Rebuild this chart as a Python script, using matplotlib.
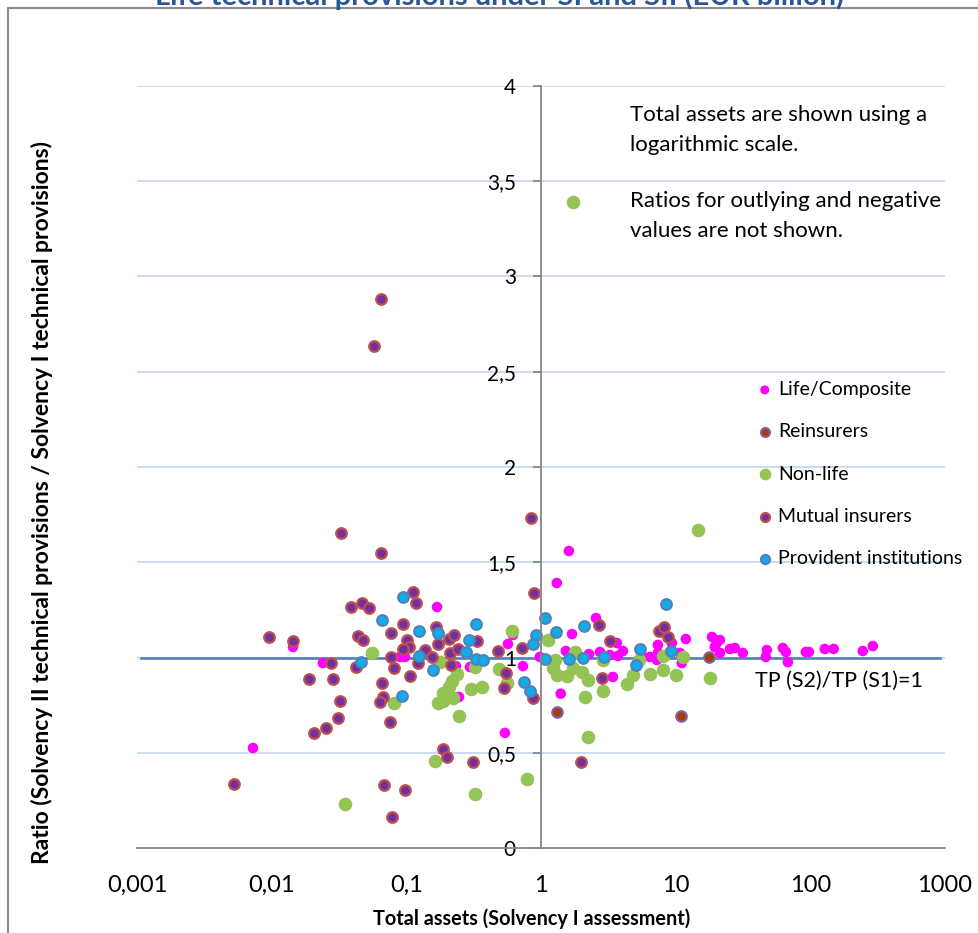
import matplotlib
matplotlib.use('Agg')
import matplotlib.pyplot as plt
from matplotlib.patches import Rectangle
from matplotlib.ticker import NullLocator

plt.rcParams['font.family'] = ['Lato', 'DejaVu Sans']

# ---------------- data ----------------
life_x = [0.0144, 0.00726, 0.0240, 0.169, 0.0897, 0.0976, 0.2335, 0.246, 0.297, 0.568, 0.619, 0.734,
          0.540, 1.31, 1.61, 1.40, 2.56, 1.70, 1.53, 2.27, 2.74, 3.25, 3.66, 4.06, 3.72, 3.42, 6.43,
          7.38, 7.38, 7.25, 9.37, 11.9, 10.75, 11.1, 18.6, 20.2, 21.3, 19.5, 21.3, 25.3, 27.5, 31.5,
          47.5, 46.7, 62.5, 65.8, 68.1, 92.6, 97.5, 128, 149, 245, 291, 0.98, 5.7]
life_y = [1.055, 0.525, 0.971, 1.265, 1.003, 1.003, 0.955, 0.793, 0.950, 1.071, 1.118, 0.955,
          0.604, 1.391, 1.559, 0.81, 1.207, 1.123, 1.034, 1.018, 1.029, 1.013, 1.076, 1.034, 1.008,
          0.898, 1.003, 1.066, 1.024, 0.987, 1.076, 1.097, 1.024, 0.971, 1.108, 1.076, 1.092, 1.055,
          1.024, 1.045, 1.050, 1.024, 1.039, 1.003, 1.050, 1.029, 0.976, 1.029, 1.029, 1.045, 1.045,
          1.034, 1.060, 1.003, 1.003]

reins_x = [1.31, 10.9, 17.6]
reins_y = [0.714, 0.693, 1.003]

nonlife_x = [1.73, 14.6, 0.035, 0.323, 0.786, 2.23, 0.163, 17.95, 0.246, 0.081, 2.12, 2.88, 0.0555,
             0.608, 1.125, 0.178, 0.2375, 0.218, 0.207, 0.187, 0.172, 0.187, 0.222, 0.302, 0.364,
             0.323, 0.487, 0.558, 1.27, 1.23, 1.31, 1.56, 1.79, 1.73, 2.01, 2.23, 4.34, 4.81, 6.43,
             8.04, 10.0, 8.04, 11.3, 5.33, 2.88]
nonlife_y = [3.391, 1.669, 0.231, 0.283, 0.362, 0.583, 0.457, 0.892, 0.693, 0.761, 0.793, 0.824,
             1.024, 1.139, 1.092, 0.976, 0.913, 0.877, 0.845, 0.814, 0.761, 0.772, 0.787, 0.835,
             0.845, 0.950, 0.940, 0.866, 0.987, 0.945, 0.908, 0.903, 1.029, 0.945, 0.924, 0.882,
             0.861, 0.908, 0.913, 0.934, 0.908, 1.008, 1.003, 0.987, 0.987]

mutual_x = [0.0648, 0.0575, 0.0327, 0.0648, 0.841, 0.00955, 0.0144, 0.0276, 0.0189, 0.0285, 0.0321,
            0.0311, 0.0253, 0.0206, 0.00527, 0.0388, 0.0468, 0.0528, 0.0437, 0.0476, 0.0422, 0.0659,
            0.0671, 0.0637, 0.0755, 0.0682, 0.0976, 0.0782, 0.112, 0.118, 0.0944, 0.0769, 0.101,
            0.1045, 0.0944, 0.166, 0.172, 0.207, 0.226, 0.334, 0.7215, 0.886, 0.0769, 0.137, 0.155,
            0.211, 0.242, 0.479, 0.214, 0.081, 0.122, 0.106, 0.549, 0.530, 0.871, 0.187, 0.200,
            0.312, 1.98, 2.69, 3.25, 7.50, 8.17, 8.75, 2.83]
mutual_y = [2.882, 2.635, 1.654, 1.549, 1.732, 1.108, 1.087, 0.971, 0.887, 0.887, 0.772, 0.682,
            0.630, 0.604, 0.336, 1.265, 1.286, 1.260, 1.113, 1.092, 0.950, 0.866, 0.793, 0.766,
            0.661, 0.331, 0.304, 0.163, 1.344, 1.286, 1.176, 1.129, 1.092, 1.055, 1.045, 1.160,
            1.071, 1.097, 1.118, 1.087, 1.050, 1.339, 1.003, 1.039, 1.003, 1.024, 1.045, 1.034,
            0.961, 0.945, 0.971, 0.903, 0.919, 0.840, 0.787, 0.520, 0.478, 0.451, 0.451, 1.171,
            1.087, 1.139, 1.160, 1.108, 0.892]

prov_x = [0.0944, 0.0928, 0.0659, 0.124, 0.172, 0.329, 0.046, 0.124, 0.158, 0.277, 0.292, 0.329,
          0.371, 0.747, 0.827, 1.07, 0.917, 0.871, 1.29, 1.07, 1.61, 2.08, 2.05, 2.93, 5.06, 5.42,
          9.21, 8.46]
prov_y = [1.318, 0.798, 1.197, 1.139, 1.129, 1.176, 0.976, 1.008, 0.934, 1.029, 1.092, 0.992,
          0.987, 0.871, 0.824, 1.207, 1.118, 1.071, 1.134, 0.992, 0.992, 1.165, 0.997, 1.003,
          0.961, 1.045, 1.034, 1.281]

ref_x = [0.00107, 914]
ref_y = [1, 1]

x_ticks = [0.001, 0.01, 0.1, 1, 10, 100, 1000]
x_labels = ['0,001', '0,01', '0,1', '1', '10', '100', '1000']
y_ticks = [0, 0.5, 1, 1.5, 2, 2.5, 3, 3.5, 4]
y_labels = ['0', '0,5', '1', '1,5', '2', '2,5', '3', '3,5', '4']

series_names = ['Life/Composite', 'Reinsurers', 'Non-life', 'Mutual insurers', 'Provident institutions']

title = 'Life technical provisions under SI and SII (EUR billion)'
note1 = 'Total assets are shown using a\nlogarithmic scale.'
note2 = 'Ratios for outlying and negative\nvalues are not shown.'
ref_label = 'TP (S2)/TP (S1)=1'

# ---------------- figure ----------------
W, H = 979, 933
fig = plt.figure(figsize=(W / 100, H / 100), dpi=100)
ax = fig.add_axes([137 / W, 1 - 848 / H, (945 - 137) / W, (848 - 86) / H])
ax.set_xscale('log')
ax.set_xlim(0.001, 1000)
ax.set_ylim(0, 4)

for yv in y_ticks[1:]:
    ax.axhline(yv, color='#c6d9f1', lw=1.3, zorder=0)

hs = []
hs.append(ax.scatter(life_x, life_y, s=58, c='#ff00ff', edgecolors='none', zorder=2))
hs.append(ax.scatter(reins_x, reins_y, s=58, c='#a63c06', edgecolors='#8064a2', linewidths=1.5, zorder=2))
hs.append(ax.scatter(nonlife_x, nonlife_y, s=80, c='#92c653', edgecolors='#9bbb59', linewidths=0.8, zorder=2))
hs.append(ax.scatter(mutual_x, mutual_y, s=58, c='#7030a0', edgecolors='#c0504d', linewidths=1.6, zorder=2))
hs.append(ax.scatter(prov_x, prov_y, s=58, c='#10aee8', edgecolors='#4f81bd', linewidths=1.6, zorder=2))

ax.plot(ref_x, ref_y, color='#4f81bd', lw=1.9, zorder=1.5)

for k in ['top', 'right']:
    ax.spines[k].set_visible(False)
ax.spines['left'].set_position(('data', 1))
ax.spines['left'].set_color('#868686')
ax.spines['left'].set_linewidth(1.3)
ax.spines['bottom'].set_color('#868686')
ax.spines['bottom'].set_linewidth(1.3)

ax.set_xticks(x_ticks)
ax.set_xticklabels(x_labels)
ax.xaxis.set_minor_locator(NullLocator())
ax.set_yticks(y_ticks)
ax.set_yticklabels(y_labels)
ax.tick_params(axis='x', length=0, pad=19.5, labelsize=17)
ax.tick_params(axis='y', direction='out', length=6, width=1.3, color='#868686', pad=12, labelsize=15)

ax.text(630 / W, 1 - 105 / H, note1, transform=fig.transFigure, ha='left', va='top',
        fontsize=16, linespacing=1.62)
ax.text(630 / W, 1 - 191 / H, note2, transform=fig.transFigure, ha='left', va='top',
        fontsize=16, linespacing=1.62)
ax.text(755 / W, 1 - 681 / H, ref_label, transform=fig.transFigure, ha='left', va='center',
        fontsize=15.5)

leg = ax.legend(hs, series_names, loc='upper left', bbox_to_anchor=(757 / W, 1 - 381 / H),
                bbox_transform=fig.transFigure, frameon=False, fontsize=14, markerscale=0.85,
                handlelength=0.8, handletextpad=0.3, labelspacing=1.3, borderpad=0,
                borderaxespad=0, scatterpoints=1)

fig.text(42 / W, 1 - 502 / H,
         'Ratio (Solvency II technical provisions / Solvency I technical provisions)',
         rotation=90, ha='center', va='center', fontsize=16.5, fontweight='bold')
fig.text(532 / W, 1 - 919 / H, 'Total assets (Solvency I assessment)', ha='center', va='center',
         fontsize=14.3, fontweight='bold')

fig.text(500 / W, 1 - 5 / H, title, ha='center', va='baseline', fontsize=21, fontweight='bold',
         color='#2a5597')

fig.patches.append(Rectangle((8 / W, -0.1), 1.2, 1 - 8 / H + 0.1, transform=fig.transFigure,
                             fill=False, edgecolor='#8c8c8c', lw=1.5))

fig.savefig('out.png', dpi=100)
